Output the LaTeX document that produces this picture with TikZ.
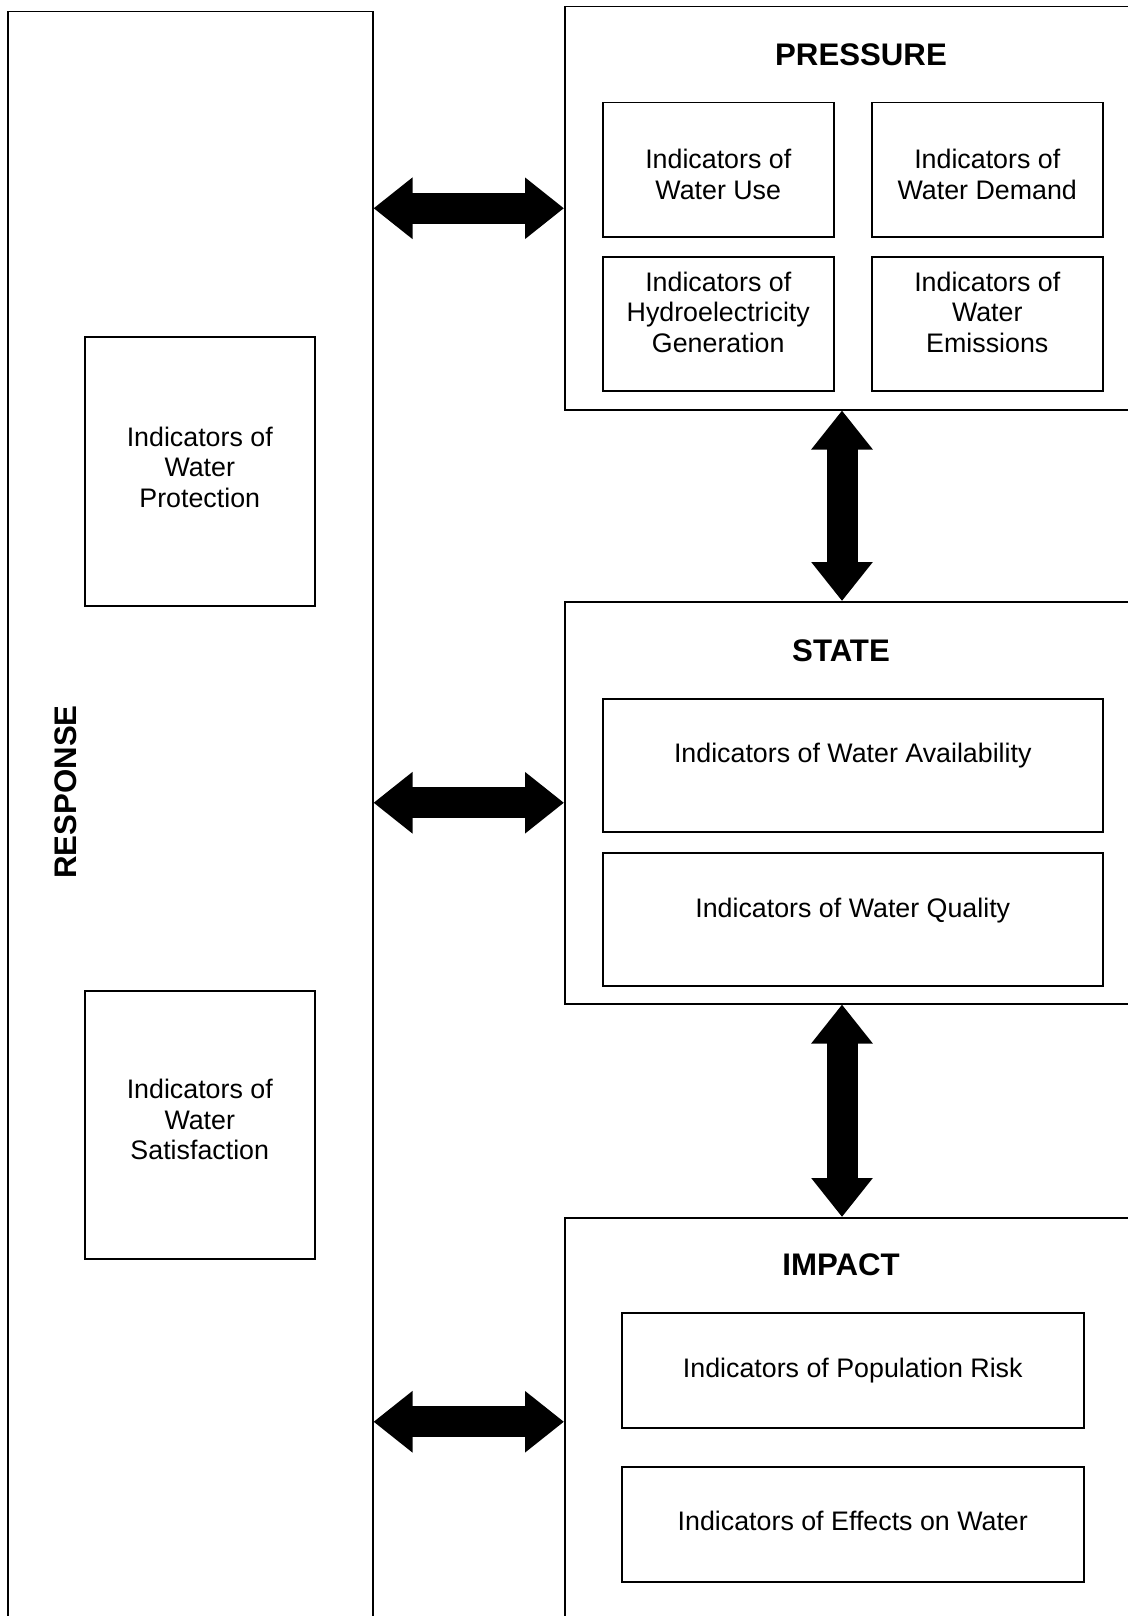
\documentclass[tikz,border=0pt]{standalone}
\usepackage{fontspec}
\setmainfont{Liberation Sans}
\usetikzlibrary{arrows.meta}
\tikzset{
  box/.style={draw, line width=0.75pt, inner sep=0pt, anchor=north west},
  txt/.style={inner sep=0pt, align=center, font=\fontsize{13.4pt}{15.4pt}\selectfont},
  title/.style={font=\bfseries\fontsize{15.6pt}{18pt}\selectfont, inner sep=0pt},
  bigarrow/.style={line width=15.5pt,
    {Triangle[length=19.5pt,width=29.5pt]}-{Triangle[length=19.5pt,width=29.5pt]}}
}
\begin{document}
\begin{tikzpicture}[x=0.5pt,y=-0.5pt]
\useasboundingbox (0,0) rectangle (1128,1616);
\clip (0,0) rectangle (1128,1616);
% outer boxes
\node[box, minimum width=182.5pt, minimum height=820pt] (resp) at (7,11) {};
\node[box, minimum width=300pt, minimum height=201.5pt] (press) at (564,6) {};
\node[box, minimum width=300pt, minimum height=201pt] (state) at (564,601) {};
\node[box, minimum width=300pt, minimum height=204pt] (impact) at (564,1217) {};
% titles
\node[title] (tpress) at (861,55) {PRESSURE};
\node[title] (tstate) at (841,651) {STATE};
\node[title] (timpact) at (841,1265) {IMPACT};
\node[title, rotate=90] (tresp) at (66,792) {RESPONSE};
% pressure inner
\node[box, minimum width=115.5pt, minimum height=67pt] (use) at (602,102) {};
\node[box, minimum width=115.5pt, minimum height=67pt] (demand) at (871,102) {};
\node[box, minimum width=115.5pt, minimum height=67pt] (hydro) at (602,256) {};
\node[box, minimum width=115.5pt, minimum height=67pt] (emis) at (871,256) {};
\node[txt, yshift=-2.3pt] (usetxt) at (use.center) {Indicators of\\Water Use};
\node[txt, yshift=-2.3pt] (demandtxt) at (demand.center) {Indicators of\\Water Demand};
\node[txt, yshift=5.7pt] (hydrotxt) at (hydro.center) {Indicators of\\Hydroelectricity\\Generation};
\node[txt, yshift=5.7pt] (emistxt) at (emis.center) {Indicators of\\Water\\Emissions};
% state inner
\node[box, minimum width=250pt, minimum height=66.5pt] (avail) at (602,698) {};
\node[box, minimum width=250pt, minimum height=66.5pt] (qual) at (602,852) {};
\node[txt, yshift=4.6pt] (availtxt) at (avail.center) {Indicators of Water Availability};
\node[txt, yshift=4.4pt] (qualtxt) at (qual.center) {Indicators of Water Quality};
% impact inner
\node[box, minimum width=231pt, minimum height=57.5pt] (risk) at (621,1312) {};
\node[box, minimum width=231pt, minimum height=57.5pt] (effects) at (621,1466) {};
\node[txt] (risktxt) at (risk.center) {Indicators of Population Risk};
\node[txt, yshift=1.5pt] (effectstxt) at (effects.center) {Indicators of Effects on Water};
% response inner
\node[box, minimum width=115pt, minimum height=134.5pt] (prot) at (84,336) {};
\node[box, minimum width=115pt, minimum height=134pt] (satis) at (84,990) {};
\node[txt, yshift=2pt] (prottxt) at (prot.center) {Indicators of\\Water\\Protection};
\node[txt, yshift=2.6pt] (satistxt) at (satis.center) {Indicators of\\Water\\Satisfaction};
% arrows
\coordinate (vx) at (842,0);
\draw[bigarrow] (press.west -| resp.east) -- (press.west);
\draw[bigarrow] (state.west -| resp.east) -- (state.west);
\draw[bigarrow] (impact.west -| resp.east) -- (impact.west);
\draw[bigarrow] (press.south -| vx) -- (state.north -| vx);
\draw[bigarrow] (state.south -| vx) -- (impact.north -| vx);
\end{tikzpicture}
\end{document}
